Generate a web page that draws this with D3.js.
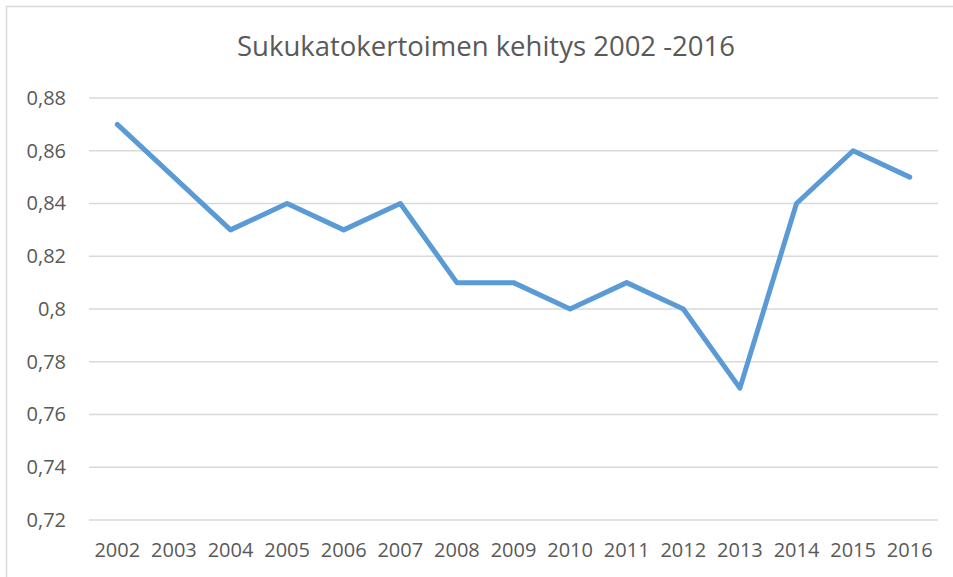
<!DOCTYPE html>
<html lang="fi">
<head>
<meta charset="UTF-8">
<title>Sukukatokertoimen kehitys</title>
<style>
  body { margin: 0; background: #fff; }
  text { font-family: "Open Sans", "Liberation Sans", sans-serif; fill: #595959; }
</style>
</head>
<body>
<script src="https://d3js.org/d3.v7.min.js"></script>
<script>
var years = ['2002', '2003', '2004', '2005', '2006', '2007', '2008', '2009', '2010', '2011', '2012', '2013', '2014', '2015', '2016']
var values = [0.87, 0.85, 0.83, 0.84, 0.83, 0.84, 0.81, 0.81, 0.80, 0.81, 0.80, 0.77, 0.84, 0.86, 0.85]
var yTicks = [0.72, 0.74, 0.76, 0.78, 0.80, 0.82, 0.84, 0.86, 0.88]

var width = 953, height = 577
var margin = { left: 89, top: 98, right: 15, bottom: 57 }

var svg = d3.select('body').append('svg')
    .attr('width', width)
    .attr('height', height)

// chart frame (only top and left edges are visible in the crop)
svg.append('path')
    .attr('d', 'M6.5,' + height + 'V6.5H' + width)
    .attr('fill', 'none')
    .attr('stroke', '#d9d9d9')
    .attr('stroke-width', 1.5)

svg.append('text')
    .attr('x', 486)
    .attr('y', 56)
    .attr('text-anchor', 'middle')
    .style('font-size', '27.5px')
    .text('Sukukatokertoimen kehitys 2002 -2016')

var x = d3.scaleBand().domain(years).range([margin.left, width - margin.right])
var y = d3.scaleLinear().domain([0.72, 0.88]).range([height - margin.bottom, margin.top])

// gridlines
svg.append('g').selectAll('line').data(yTicks).enter().append('line')
    .attr('x1', margin.left)
    .attr('x2', width - margin.right)
    .attr('y1', function (d) { return y(d) })
    .attr('y2', function (d) { return y(d) })
    .attr('stroke', '#d9d9d9')
    .attr('stroke-width', 1.5)

// y axis labels
var fmt = function (d) { return d3.format('.2~f')(d).replace('.', ',') }
var yAxis = d3.axisLeft(y).tickValues(yTicks).tickFormat(fmt).tickSize(0).tickPadding(23)
var ya = svg.append('g').attr('transform', 'translate(' + margin.left + ',0)').call(yAxis)
ya.select('.domain').remove()
ya.selectAll('text').style('font-size', '20px').attr('font-family', null).style('fill', '#595959')

// x axis labels
var xAxis = d3.axisBottom(x).tickSize(0).tickPadding(23)
var xa = svg.append('g').attr('transform', 'translate(0,' + (height - margin.bottom) + ')').call(xAxis)
xa.select('.domain').remove()
xa.selectAll('text').style('font-size', '20px').attr('font-family', null).style('fill', '#595959')

var line = d3.line()
    .x(function (d, i) { return x(years[i]) + x.bandwidth() / 2 })
    .y(function (d) { return y(d) })

svg.append('path')
    .datum(values)
    .attr('d', line)
    .attr('fill', 'none')
    .attr('stroke', '#5b9bd5')
    .attr('stroke-width', 5)
    .attr('stroke-linejoin', 'round')
    .attr('stroke-linecap', 'round')
</script>
</body>
</html>
